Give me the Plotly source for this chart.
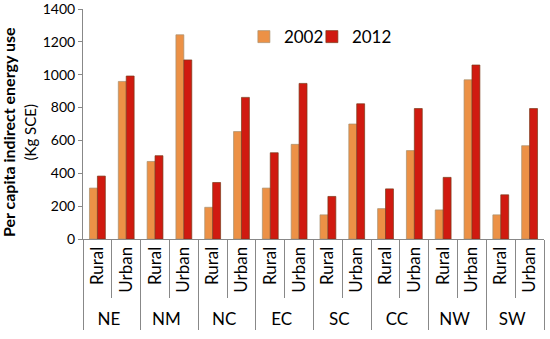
import plotly.graph_objects as go

regions = ["NE", "NM", "NC", "EC", "SC", "CC", "NW", "SW"]
areas = ["Rural", "Urban"]
v2002 = [310, 959, 472, 1243, 193, 654, 310, 576, 147, 700, 185, 538, 177, 969, 147, 568]
v2012 = [383, 992, 507, 1090, 344, 862, 525, 947, 259, 823, 305, 794, 375, 1059, 269, 794]

outer = [r for r in regions for _ in areas]
inner = [a for _ in regions for a in areas]

fig = go.Figure()
fig.add_bar(x=[outer, inner], y=v2002, name="2002", legend="legend",
            marker=dict(color="#EC9146", line=dict(color="#A89070", width=0.7)))
fig.add_bar(x=[outer, inner], y=v2012, name="2012", legend="legend2",
            marker=dict(color="#D01A10", line=dict(color="#7A3A18", width=0.7)))

leg_common = dict(orientation="h", y=0.878, xanchor="left", yanchor="middle",
                  itemwidth=30, font=dict(size=17), bgcolor="rgba(0,0,0,0)")

fig.update_layout(
    width=550, height=339,
    margin=dict(l=83, r=6, t=9, b=100, autoexpand=False),
    plot_bgcolor="white", paper_bgcolor="white",
    font=dict(family="Lato", size=15, color="black"),
    barmode="group", bargap=0.45, bargroupgap=0,
    showlegend=True,
    legend=dict(x=0.349, **leg_common),
    legend2=dict(x=0.4965, **leg_common),
    yaxis=dict(range=[0, 1400], dtick=200, showgrid=False, showline=True, automargin=False,
               linecolor="#888888", linewidth=1, ticks="outside", ticklen=4,
               tickcolor="#888888", tickfont=dict(size=14),
               ticklabeloverflow="allow"),
    xaxis=dict(type="multicategory", showline=True, linecolor="#888888", linewidth=1, automargin=False,
               ticks="outside", tickson="boundaries", ticklen=58, tickcolor="#888888",
               showdividers=True, dividercolor="#888888", dividerwidth=1,
               tickangle=-90, tickfont=dict(size=17)),
    annotations=[dict(
        text="<b>Per capita indirect energy use</b><br><span style='font-size:15px'>(Kg SCE)</span>",
        xref="paper", yref="paper", x=0, y=0.465, xshift=-64,
        xanchor="center", yanchor="middle", textangle=-90, showarrow=False,
        font=dict(size=16, color="black"))],
)

fig.write_html("out.html", config={"displayModeBar": False},
               post_script="document.body.style.margin='0';document.body.style.padding='0';")
